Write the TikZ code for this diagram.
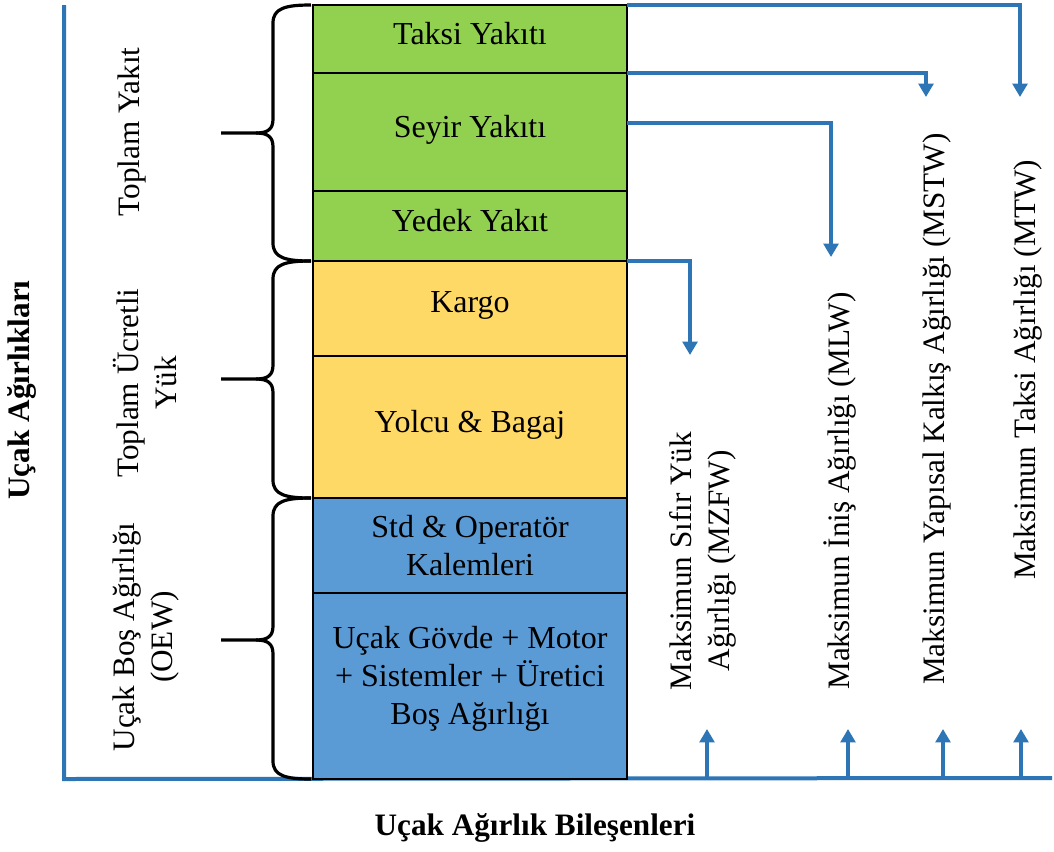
\documentclass[tikz,border=0pt]{standalone}
\usepackage{fontspec}
\setmainfont{Liberation Serif}
\usetikzlibrary{arrows.meta,calc}
\definecolor{fuelgreen}{RGB}{146,208,80}
\definecolor{loadyellow}{RGB}{255,217,102}
\definecolor{emptyblue}{RGB}{91,155,213}
\definecolor{axisblue}{RGB}{46,117,182}
\newcommand{\up}[1]{\raisebox{9pt}{#1}}
\newcommand{\upblock}[1]{\raisebox{0pt}[\height][\dimexpr\depth+10.5pt\relax]{\begin{tabular}{@{}c@{}}#1\end{tabular}}}
\begin{document}
\begin{tikzpicture}[x=0.75pt,y=-0.75pt,
  rowbox/.style={draw=black, line width=1.6pt, inner sep=0pt, outer sep=0pt,
    minimum width=235.5pt, align=center, font=\fontsize{24}{28.5}\selectfont},
  conn/.style={draw=axisblue, line width=3pt, -{Triangle[width=11pt,length=10pt]}},
  axisline/.style={draw=axisblue, line width=3pt},
  bracestyle/.style={draw=black, line width=2.4pt},
  lbl/.style={align=center, inner sep=0pt, font=\fontsize{23.4}{28}\selectfont},
  ttl/.style={align=center, inner sep=0pt, font=\fontsize{23.4}{28}\selectfont\bfseries}]
\useasboundingbox (0,0) rectangle (1054,851);
\fill[white] (0,0) rectangle (1054,851);

% axes
\coordinate (ytop) at (64,5);
\coordinate (origin) at (64,779);
\coordinate (xend) at (1052,778);
\draw[axisline] (ytop) -- (origin) -- (xend);

% stacked components
\node[rowbox, fill=fuelgreen, minimum height=51pt] (taksi) at (470,39) {\up{Taksi Yakıtı}};
\node[rowbox, fill=fuelgreen, minimum height=88.5pt] (seyir) at (470,132) {\up{Seyir Yakıtı}};
\node[rowbox, fill=fuelgreen, minimum height=52.5pt] (yedek) at (470,226) {\up{Yedek Yakıt}};
\node[rowbox, fill=loadyellow, minimum height=71.25pt] (kargo) at (470,308.5) {\up{Kargo}};
\node[rowbox, fill=loadyellow, minimum height=106.5pt] (yolcu) at (470,427) {\up{Yolcu \& Bagaj}};
\node[rowbox, fill=emptyblue, minimum height=71.25pt] (std) at (470,545.5) {Std \& Operatör\\Kalemleri};
\node[rowbox, fill=emptyblue, minimum height=139.5pt] (govde) at (470,686) {\upblock{Uçak Gövde + Motor\\+ Sistemler + Üretici\\Boş Ağırlığı}};

% braces
\newcommand{\groupbrace}[3]{%
  \draw[bracestyle] (311,#1) .. controls (286,#1) and (273,#1+3) .. (273,#1+18)
     -- (273,#3-14) .. controls (273,#3-4) and (268,#3) .. (256,#3) -- (221,#3);
  \draw[bracestyle] (256,#3) .. controls (268,#3) and (273,#3+4) .. (273,#3+14)
     -- (273,#2-18) .. controls (273,#2-3) and (286,#2) .. (311,#2);}
\groupbrace{5}{261}{133}
\groupbrace{261}{498}{379}
\groupbrace{498}{779}{640}

% left labels
\node[ttl, rotate=90] (weights) at (22,390) {Uçak Ağırlıkları};
\node[lbl, rotate=90] (fuel) at (132,132) {Toplam Yakıt};
\node[lbl, rotate=90] (payload) at (145,383) {Toplam Ücretli\\Yük};
\node[lbl, rotate=90] (oew) at (146,637) {Uçak Boş Ağırlığı\\(OEW)};

% right labels
\node[lbl, rotate=90] (mzfw) at (703,561) {Maksimun Sıfır Yük\\Ağırlığı (MZFW)};
\node[lbl, rotate=90] (mlw) at (840,491) {Maksimun İniş Ağırlığı (MLW)};
\node[lbl, rotate=90] (mstw) at (937,409) {Maksimun Yapısal Kalkış Ağırlığı (MSTW)};
\node[lbl, rotate=90] (mtw) at (1028,370) {Maksimun Taksi Ağırlığı (MTW)};

% bottom title
\node[ttl] (comp) at (535,828) {Uçak Ağırlık Bileşenleri};

% connectors from stack to limits
\coordinate (mtwtip) at (1020,97);
\coordinate (mstwtip) at (926,97);
\coordinate (seyirout) at (627,123);
\coordinate (mlwtip) at (831,257);
\coordinate (mzfwtip) at (690,355);
\draw[conn] (taksi.north east) -| (mtwtip);
\draw[conn] (taksi.south east) -| (mstwtip);
\draw[conn] (seyirout) -| (mlwtip);
\draw[conn] (yedek.south east) -| (mzfwtip);

% bottom arrows
\foreach \xx/\nm in {707/a,848/b,943/c,1021/d}{
  \coordinate (base\nm) at (\xx,778);
  \coordinate (up\nm) at (\xx,729);
  \draw[conn] (base\nm) -- (up\nm);
}
\end{tikzpicture}
\end{document}
